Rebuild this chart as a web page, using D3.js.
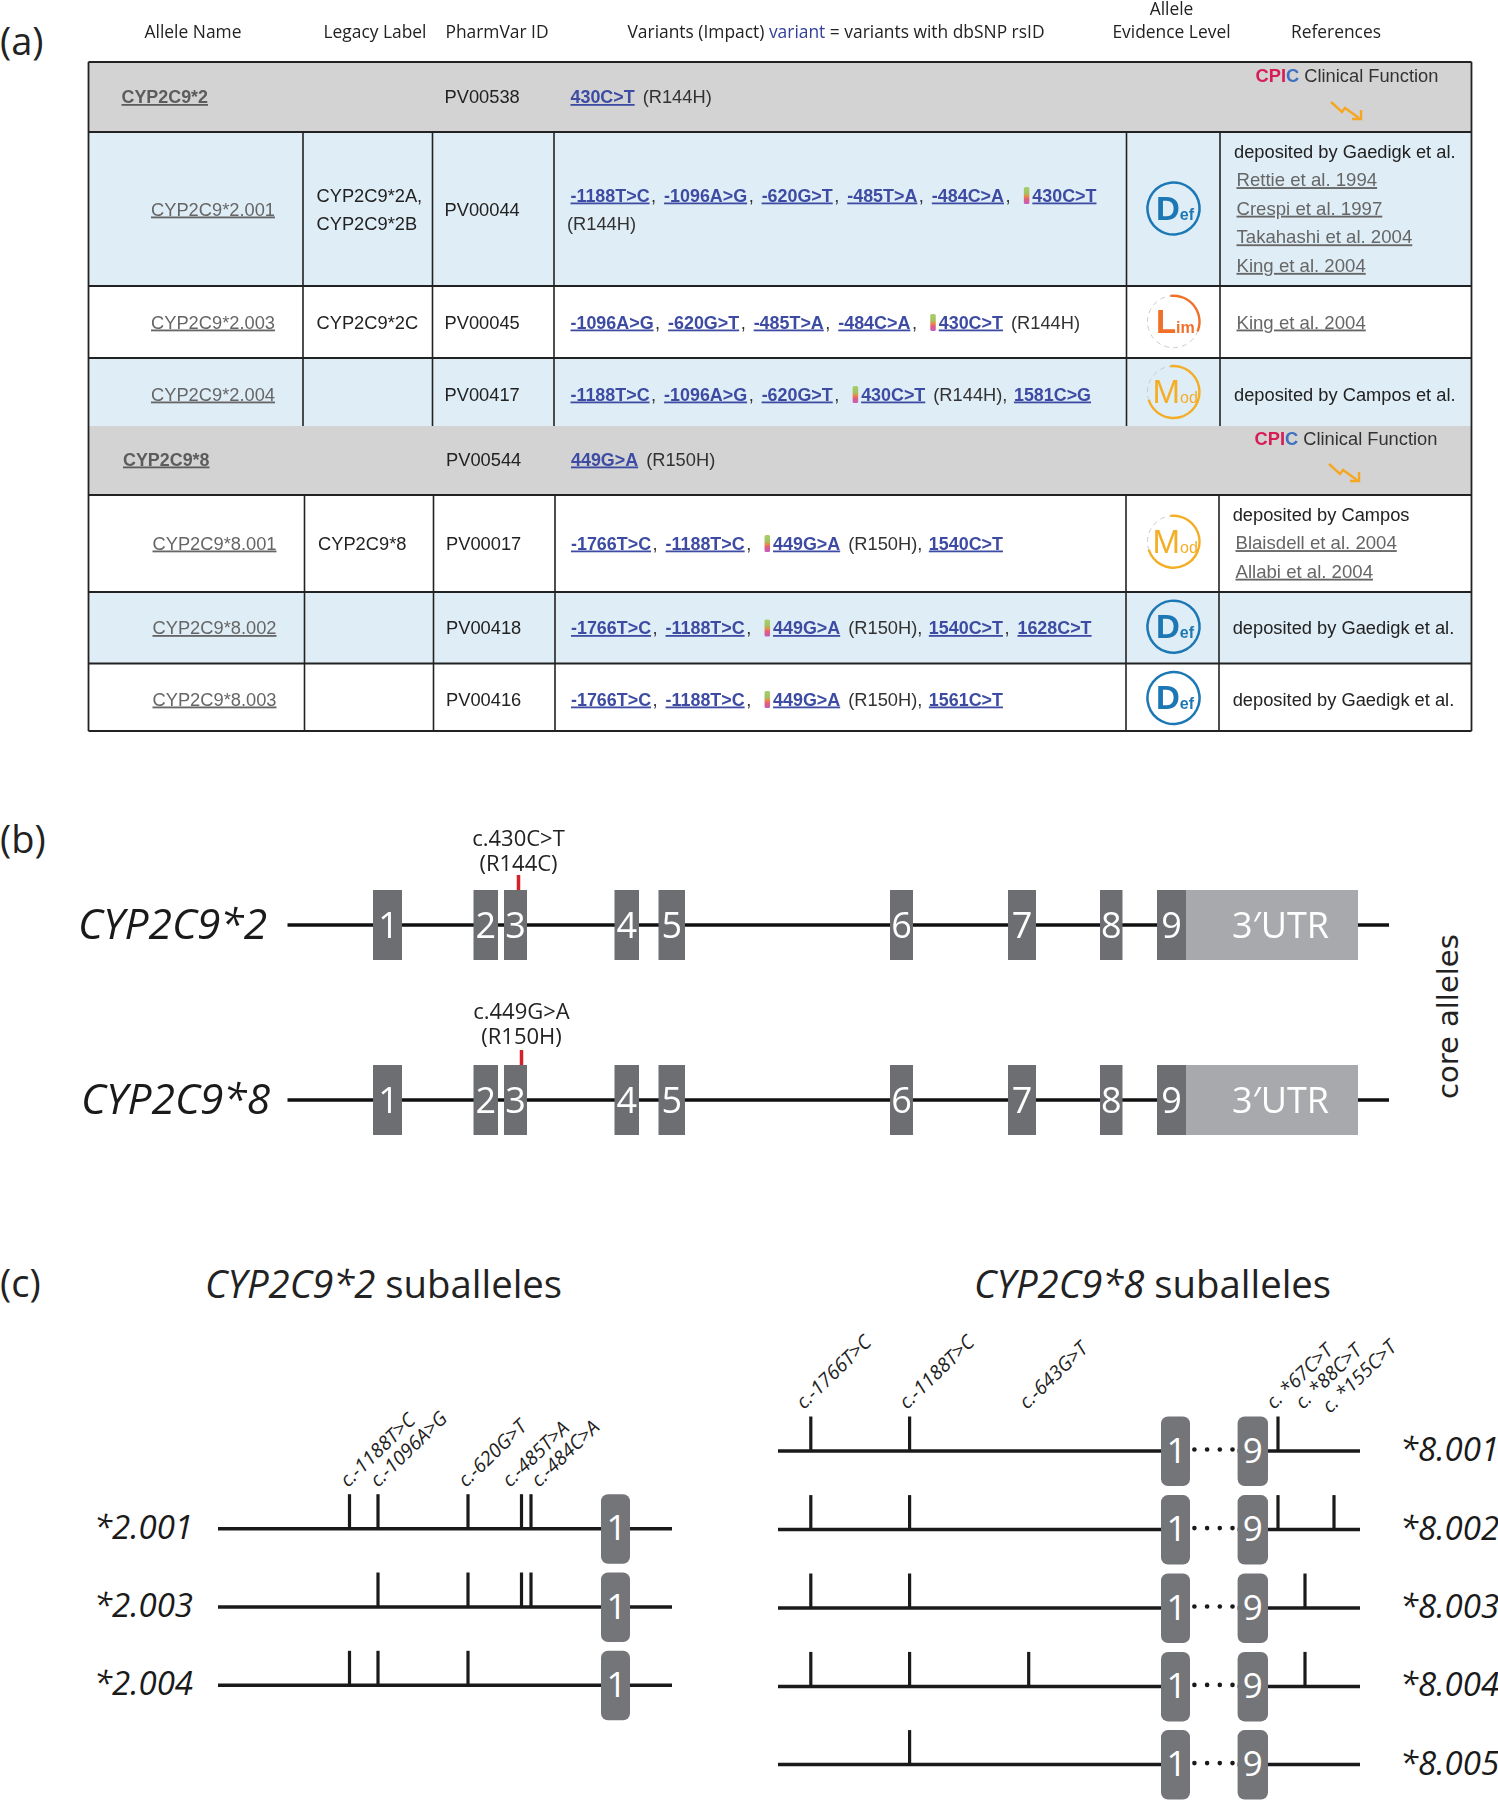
<!DOCTYPE html>
<html>
<head>
<meta charset="utf-8">
<script src="https://cdnjs.cloudflare.com/ajax/libs/d3/7.8.5/d3.min.js"></script>
<style>
body { margin: 0; background: #fff; }
svg { display: block; }
text { font-family: "Open Sans", sans-serif; }
.cel text, text.cel { font-family: "Liberation Sans", Arial, sans-serif; font-size: 18.3px; }
</style>
</head>
<body>
<svg id="fig" width="1498" height="1800"></svg>
<script>
var width = 1498, height = 1800

// ---- dados da tabela (a)
var tableHeaders = ["Allele Name", "Legacy Label", "PharmVar ID", "References"]
var alleleNames = ["CYP2C9*2", "CYP2C9*2.001", "CYP2C9*2.003", "CYP2C9*2.004", "CYP2C9*8", "CYP2C9*8.001", "CYP2C9*8.002", "CYP2C9*8.003"]
var legacyLabels = [[], ["CYP2C9*2A,", "CYP2C9*2B"], ["CYP2C9*2C"], [], [], ["CYP2C9*8"], [], []]
var pharmvarIds = ["PV00538", "PV00044", "PV00045", "PV00417", "PV00544", "PV00017", "PV00418", "PV00416"]
// "!" = core variant (gets the little flag), "(" = impact, "|" = line break
var variantLists = [
    ["430C>T", "(R144H)"],
    ["-1188T>C", "-1096A>G", "-620G>T", "-485T>A", "-484C>A", "!430C>T", "|", "(R144H)"],
    ["-1096A>G", "-620G>T", "-485T>A", "-484C>A", "!430C>T", "(R144H)"],
    ["-1188T>C", "-1096A>G", "-620G>T", "!430C>T", "(R144H),", "1581C>G"],
    ["449G>A", "(R150H)"],
    ["-1766T>C", "-1188T>C", "!449G>A", "(R150H),", "1540C>T"],
    ["-1766T>C", "-1188T>C", "!449G>A", "(R150H),", "1540C>T", "1628C>T"],
    ["-1766T>C", "-1188T>C", "!449G>A", "(R150H),", "1561C>T"]
]
var evidenceLevels = [null, "Def", "Lim", "Mod", null, "Mod", "Def", "Def"]
var evidenceShare = {Def: 1, Lim: 0.33, Mod: 0.72}
var referenceLists = [
    [],
    ["deposited by Gaedigk et al.", "Rettie et al. 1994", "Crespi et al. 1997", "Takahashi et al. 2004", "King et al. 2004"],
    ["King et al. 2004"],
    ["deposited by Campos et al."],
    [],
    ["deposited by Campos", "Blaisdell et al. 2004", "Allabi et al. 2004"],
    ["deposited by Gaedigk et al."],
    ["deposited by Gaedigk et al."]
]
var rowKinds = ["core", "blue", "white", "blue", "core", "white", "blue", "white"]

// ---- dados do gene (b)
var coreNames = ["CYP2C9*2", "CYP2C9*8"]
var coreVariants = [["c.430C>T", "(R144C)"], ["c.449G>A", "(R150H)"]]
var corePositions = [231, 234]
var exonNames = ["1", "2", "3", "4", "5", "6", "7", "8", "9"]
var exonStarts = [85.5, 186, 216.5, 327, 371, 602.5, 720.5, 812.5, 869.5]
var exonEnds = [114.5, 210.5, 239.5, 351.5, 397.5, 625.5, 748.5, 835, 898.5]
var utrEnd = 1070.5

// ---- dados das subalelas (c)
var sub2Names = ["*2.001", "*2.003", "*2.004"]
var sub2Labels = ["c.-1188T>C", "c.-1096A>G", "c.-620G>T", "c.-485T>A", "c.-484C>A"]
var sub2Positions = [131.5, 160, 250, 303.5, 313]
var sub2Carried = [[0, 1, 2, 3, 4], [1, 2, 3, 4], [0, 1, 2]]
var sub2Exon = [383, 412]

var sub8Names = ["*8.001", "*8.002", "*8.003", "*8.004", "*8.005"]
var sub8Labels = ["c.-1766T>C", "c.-1188T>C", "c.-643G>T", "c. *67C>T", "c. *88C>T", "c. *155C>T"]
var sub8Positions = [32.8, 131.6, 250.7, 500, 527, 556]
var sub8Carried = [[0, 1, 3], [0, 1, 3, 5], [0, 1, 4], [0, 1, 2, 4], [1]]
var sub8Exons = [[383, 412], [459.6, 490]]
var dotSteps = [0, 1, 2, 3]

var svg = d3.select("#fig")
var defs = svg.append("defs")

var grad = defs.append("linearGradient").attr("id", "flag").attr("x1", 0).attr("x2", 0).attr("y1", 0).attr("y2", 1)
grad.selectAll("stop").data([[0, "#a5d06a"], [0.4, "#a5c060"], [0.55, "#ec8a4a"], [0.7, "#e0607a"], [1, "#c45cc0"]]).join("stop")
    .attr("offset", function(d) { return d[0] }).attr("stop-color", function(d) { return d[1] })

// a tabela original e um print borrado
defs.append("filter").attr("id", "soft").append("feGaussianBlur").attr("stdDeviation", 0.35)

function txt(g, x, y, s, size, opts) {
    opts = opts || {}
    var t = g.append("text").attr("x", x).attr("y", y).text(s)
        .style("font-size", size + "px")
        .attr("fill", opts.fill || "#222")
        .attr("text-anchor", opts.anchor || "start")
    if (opts.italic) t.style("font-style", "italic")
    if (opts.weight) t.style("font-weight", opts.weight)
    return t
}

// panel letters
var letters = [["(a)", 55], ["(b)", 853], ["(c)", 1297]]
letters.forEach(function(l) { txt(svg, 0, l[1], l[0], 38, {fill: "#222"}) })

// ================= (a) table
var tableLeft = 88.5, tableRight = 1471.5
var rowEdges = [62, 132, 286, 358, 426, 495, 592, 663.5, 731]
var colEdges = [[303, 432.5, 554, 1126.5, 1220], [304.5, 433.5, 555, 1126, 1219]]
var rowFill = {core: "#d3d3d3", blue: "#dfedf6", white: "#fff"}
var tableG = svg.append("g").attr("class", "cel").attr("filter", "url(#soft)")

tableG.selectAll("rect.row").data(rowKinds).join("rect")
    .attr("class", "row")
    .attr("x", tableLeft).attr("width", tableRight - tableLeft)
    .attr("y", function(d, i) { return rowEdges[i] })
    .attr("height", function(d, i) { return rowEdges[i + 1] - rowEdges[i] })
    .attr("fill", function(d) { return rowFill[d] })

// grid
rowKinds.forEach(function(k, i) {
    if (k == "core") return
    var cols = colEdges[i < 4 ? 0 : 1]
    tableG.selectAll(null).data(cols).join("line")
        .attr("x1", function(d) { return d }).attr("x2", function(d) { return d })
        .attr("y1", rowEdges[i]).attr("y2", rowEdges[i + 1])
        .attr("stroke", "#222").attr("stroke-width", 1.6)
})
tableG.selectAll("line.h").data(rowEdges.filter(function(d) { return d != 426 })).join("line")
    .attr("class", "h")
    .attr("x1", tableLeft).attr("x2", tableRight)
    .attr("y1", function(d) { return d }).attr("y2", function(d) { return d })
    .attr("stroke", "#222").attr("stroke-width", 1.8)
tableG.selectAll("line.v").data([tableLeft, tableRight]).join("line")
    .attr("class", "v")
    .attr("x1", function(d) { return d }).attr("x2", function(d) { return d })
    .attr("y1", rowEdges[0]).attr("y2", rowEdges[8])
    .attr("stroke", "#222").attr("stroke-width", 1.8)

// header above the table
var hdrG = svg.append("g")
var hdrSize = 17.4
txt(hdrG, 193, 38, tableHeaders[0], hdrSize, {anchor: "middle"})
txt(hdrG, 375, 38, tableHeaders[1], hdrSize, {anchor: "middle"})
txt(hdrG, 497, 38, tableHeaders[2], hdrSize, {anchor: "middle"})
var hv = txt(hdrG, 627.5, 38, "", hdrSize)
hv.append("tspan").text("Variants (Impact) ")
hv.append("tspan").text("variant").attr("fill", "#33409a")
hv.append("tspan").text(" = variants with dbSNP rsID")
txt(hdrG, 1171.5, 15, "Allele", hdrSize, {anchor: "middle"})
txt(hdrG, 1171.5, 38, "Evidence Level", hdrSize, {anchor: "middle"})
txt(hdrG, 1336, 38, tableHeaders[3], hdrSize, {anchor: "middle"})

var rowMiddle = [103, 215.5, 328.5, 400.5, 465.5, 549.5, 634, 705.5]
var grayLink = "#666"
var blueLink = "#3c4ba3"

function link(g, x, y, s, col, bold) {
    var t = g.append("text").attr("x", x).attr("y", y).text(s)
        .attr("fill", col).style("text-decoration", "underline")
    if (bold) t.style("font-weight", "bold").style("font-size", "17.9px")
    else t.style("font-size", "18.6px")
    return t
}

function drawVariants(i) {
    var startX = i < 4 ? 570.5 : 571
    var x = startX, y = rowMiddle[i]
    if (i == 1) y = 201.5
    var list = variantLists[i]
    list.forEach(function(tok, j) {
        if (tok == "|") { x = 567; y = 229.5; return }
        var next = list[j + 1]
        if (tok[0] == "(") {
            var t = tableG.append("text").attr("x", x).attr("y", y).text(tok).attr("fill", "#333")
            x += t.node().getComputedTextLength()
            if (next && next != "|") x += 6.5
            return
        }
        var core = tok[0] == "!"
        var name = core ? tok.slice(1) : tok
        if (core) {
            tableG.append("rect").attr("x", x - 8.5).attr("y", y - 14.5).attr("width", 5.5).attr("height", 17)
                .attr("rx", 1.5).attr("fill", "url(#flag)")
        }
        var l = link(tableG, x, y, name, blueLink, true)
        x += l.node().getComputedTextLength()
        if (next && next[0] != "(" && next != "|") {
            tableG.append("text").attr("x", x + 1.5).attr("y", y).text(",").attr("fill", "#333")
            x += next[0] == "!" ? 28.4 : 14.5
        } else if (next && next[0] == "(") {
            x += 8
        }
    })
}

var arcGen = d3.arc()
function badge(level, cx, cy) {
    var r = 26, cols = {Def: "#1f78b4", Lim: "#f0702c", Mod: "#f4ae27"}
    var c = cols[level]
    var g = tableG.append("g").attr("transform", "translate(" + cx + "," + cy + ")")
    var share = evidenceShare[level]
    var start = -0.12
    if (share < 1) {
        g.append("circle").attr("r", r).attr("fill", "none").attr("stroke", "#ccc").attr("stroke-width", 1).attr("stroke-dasharray", "5 4")
    }
    g.append("path").attr("fill", c)
        .attr("d", arcGen({innerRadius: r - 1.2, outerRadius: r + 1.2, startAngle: start, endAngle: start + share * 2 * Math.PI}))
    var t = g.append("text").attr("x", level == "Mod" ? -21 : -17.6).attr("y", 11).attr("fill", c).style("font-weight", level == "Mod" ? "normal" : "bold")
    t.append("tspan").text(level[0]).style("font-size", "33px")
    t.append("tspan").text(level.slice(1)).style("font-size", "16px")
}

var arrowLine = d3.line()
function clinicalFunction(x, y, ax, ay) {
    var t = tableG.append("text").attr("x", x).attr("y", y)
    t.append("tspan").text("CPI").attr("fill", "#d81b55").style("font-weight", "bold")
    t.append("tspan").text("C").attr("fill", "#3f6fc0").style("font-weight", "bold")
    t.append("tspan").text(" Clinical Function").attr("fill", "#333")
    var g = tableG.append("g").attr("transform", "translate(" + ax + "," + ay + ")").attr("fill", "none").attr("stroke", "#f5a623")
    g.append("path").attr("stroke-width", 2.4).attr("d", arrowLine([[0, 0], [11, 10], [14, 6], [28, 16]]))
    g.append("path").attr("stroke-width", 2.4).attr("d", arrowLine([[21, 17], [30, 17], [30, 8]]))
}

alleleNames.forEach(function(name, i) {
    var core = rowKinds[i] == "core"
    var y = rowMiddle[i]
    var nameX = core ? (i == 0 ? 121.5 : 123) : (i < 4 ? 151 : 152.5)
    var col = core ? "#5c5c5c" : grayLink
    var nm = link(tableG, nameX, y, name, col, core)
    if (!core) nm.style("font-size", "18.3px")

    // legacy
    var legacyX = i < 4 ? 316.5 : 318
    legacyLabels[i].forEach(function(s, k) {
        var yy = legacyLabels[i].length > 1 ? 201.5 + k * 28.5 : y
        tableG.append("text").attr("x", legacyX).attr("y", yy).text(s).attr("fill", "#222")
    })

    tableG.append("text").attr("x", i < 4 ? 444.5 : 446).attr("y", y).text(pharmvarIds[i]).attr("fill", "#222")

    drawVariants(i)

    if (evidenceLevels[i]) {
        var cys = {1: 208.5, 2: 321.7, 3: 392, 5: 541.7, 6: 626.7, 7: 698}
        badge(evidenceLevels[i], 1173.5, cys[i])
    }

    var refs = referenceLists[i]
    var refX = i < 4 ? 1234 : 1232.7
    var linkX = i < 4 ? 1236.5 : 1235.5
    refs.forEach(function(r, k) {
        var yy = refs.length > 1 ? (i == 1 ? 157.5 : 520.5) + k * 28.6 : y
        if (r.indexOf("deposited") == 0) {
            tableG.append("text").attr("x", refX).attr("y", yy).text(r).attr("fill", "#222")
        } else {
            link(tableG, linkX, yy, r, grayLink, false)
        }
    })
})
clinicalFunction(1255.5, 81.5, 1331, 102)
clinicalFunction(1254.5, 444.5, 1329, 464)

// ================= (b) core alleles
var xCore = d3.scaleLinear().domain([0, 1101.5]).range([287.5, 1389])
var coreLineY = [925, 1100]

coreNames.forEach(function(name, i) {
    var cy = coreLineY[i]
    var g = svg.append("g")
    txt(g, i == 0 ? 78 : 81, cy + 13.5, name, 42.5, {italic: true, fill: "#1a1a1a"})
    g.append("line").attr("x1", xCore(0)).attr("x2", xCore(1101.5)).attr("y1", cy).attr("y2", cy)
        .attr("stroke", "#111").attr("stroke-width", 3.5)
    g.append("rect").attr("x", xCore(exonEnds[8])).attr("width", xCore(utrEnd) - xCore(exonEnds[8]))
        .attr("y", cy - 35).attr("height", 70).attr("fill", "#a7a9ac")
    g.selectAll("rect.exon").data(exonNames).join("rect")
        .attr("class", "exon")
        .attr("x", function(d, k) { return xCore(exonStarts[k]) })
        .attr("width", function(d, k) { return xCore(exonEnds[k]) - xCore(exonStarts[k]) })
        .attr("y", cy - 35).attr("height", 70).attr("fill", "#6d6e71")
    g.selectAll("text.exonName").data(exonNames).join("text")
        .attr("class", "exonName")
        .attr("x", function(d, k) { return (xCore(exonStarts[k]) + xCore(exonEnds[k])) / 2 + (d == "1" ? 1 : 0) })
        .attr("y", cy + 13)
        .attr("text-anchor", "middle").attr("fill", "#fff")
        .style("font-size", "36px").style("font-weight", 400)
        .text(function(d) { return d })
    txt(g, 1280.5, cy + 13, "3\u2032UTR", 36, {anchor: "middle", fill: "#fff", weight: 400})
    // variante
    var vx = xCore(corePositions[i])
    g.append("line").attr("x1", vx).attr("x2", vx).attr("y1", cy - 50).attr("y2", cy - 35)
        .attr("stroke", "#d2232a").attr("stroke-width", 3.5)
    var up = i == 1 ? 2 : 0
    txt(g, vx, cy - 79 - up, coreVariants[i][0], 22, {anchor: "middle", fill: "#222"})
    txt(g, vx, cy - 54 - up, coreVariants[i][1], 22, {anchor: "middle", fill: "#222"})
})

var coreLabel = svg.append("g").attr("transform", "translate(1458,1099) rotate(-90)")
txt(coreLabel, 0, 0, "core alleles", 29, {fill: "#222"}).style("font-family", "'DejaVu Sans'")

// ================= (c) suballeles
txt(svg, 205, 1298, "", 38.3).call(function(t) {
    t.append("tspan").text("CYP2C9*2").style("font-style", "italic")
    t.append("tspan").text(" suballeles")
})
txt(svg, 974, 1298, "", 38.3).call(function(t) {
    t.append("tspan").text("CYP2C9*8").style("font-style", "italic")
    t.append("tspan").text(" suballeles")
})

function subPanel(cfg) {
    var x = cfg.x
    var g = svg.append("g")
    cfg.names.forEach(function(name, i) {
        var cy = cfg.rows[i]
        // no painel do *8 a linha para entre os exons 1 e 9
        var trechos = cfg.exons.length > 1
            ? [[x.range()[0], x(cfg.exons[0][1])], [x(cfg.exons[1][0]), x.range()[1]]]
            : [[x.range()[0], x.range()[1]]]
        g.selectAll(null).data(trechos).join("line")
            .attr("x1", function(d) { return d[0] }).attr("x2", function(d) { return d[1] })
            .attr("y1", cy).attr("y2", cy)
            .attr("stroke", "#1a1a1a").attr("stroke-width", 3.5)
        g.selectAll(null).data(cfg.carried[i]).join("line")
            .attr("x1", function(d) { return x(cfg.positions[d]) })
            .attr("x2", function(d) { return x(cfg.positions[d]) })
            .attr("y1", cy - 34.5).attr("y2", cy)
            .attr("stroke", "#1a1a1a").attr("stroke-width", 3.2)
        cfg.exons.forEach(function(e, k) {
            var rx0 = x(e[0]), rx1 = x(e[1])
            g.append("rect").attr("x", rx0).attr("width", rx1 - rx0)
                .attr("y", cy - 34.5).attr("height", 69.5).attr("rx", 7)
                .attr("fill", "#747579")
            txt(g, (rx0 + rx1) / 2 + (k == 0 ? 1 : 0), cy + 11.5, k == 0 ? "1" : "9", 35, {anchor: "middle", fill: "#fff", weight: 400})
        })
        if (cfg.dots) {
            g.selectAll(null).data(dotSteps).join("circle")
                .attr("cx", function(d) { return cfg.dots.x0 + d * cfg.dots.step })
                .attr("cy", cy - 1.5).attr("r", 2.3)
                .attr("fill", "#1a1a1a")
        }
        txt(g, cfg.nameX, cy + 10, name, 33, {italic: true, fill: "#1a1a1a", anchor: cfg.nameAnchor})
    })
    cfg.labels.forEach(function(s, k) {
        var a = cfg.labelAnchors[k]
        g.append("text").attr("transform", "translate(" + a[0] + "," + a[1] + ") rotate(-44)")
            .attr("fill", "#222").style("font-size", "19.5px").style("font-style", "italic").text(s)
    })
}

subPanel({
    x: d3.scaleLinear().domain([0, 454]).range([218, 672]),
    names: sub2Names, rows: [1528.7, 1607, 1685.3],
    positions: sub2Positions, carried: sub2Carried, exons: [sub2Exon],
    labels: sub2Labels,
    labelAnchors: [[348, 1488], [378, 1488], [466, 1488], [510, 1488], [539, 1488]],
    nameX: 193, nameAnchor: "end"
})
subPanel({
    x: d3.scaleLinear().domain([0, 582]).range([778, 1360]),
    names: sub8Names, rows: [1451, 1529.6, 1608, 1686.4, 1764.6],
    positions: sub8Positions, carried: sub8Carried, exons: sub8Exons,
    dots: {x0: 1194.4, step: 12.7},
    labels: sub8Labels,
    labelAnchors: [[804, 1410], [907, 1410], [1027, 1410], [1274, 1410], [1303, 1410], [1330, 1414]],
    nameX: 1400, nameAnchor: "start"
})
</script>
</body>
</html>
